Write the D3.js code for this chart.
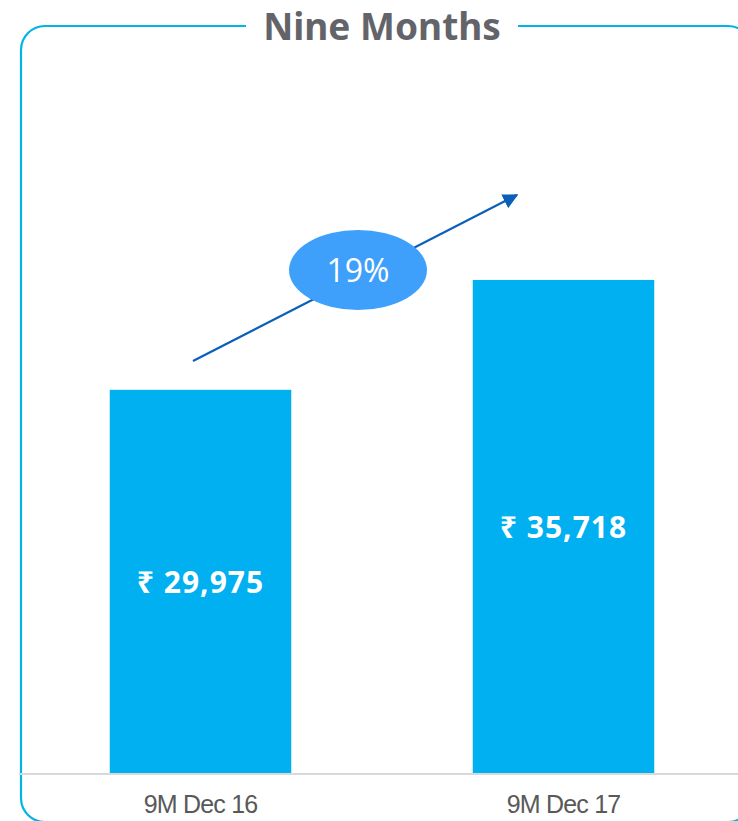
<!DOCTYPE html>
<html>
<head>
<meta charset="utf-8">
<script src="https://cdn.jsdelivr.net/npm/d3@7"></script>
<style>
  body { margin: 0; background: #fff; }
  svg { display: block; }
</style>
</head>
<body>
<div id="chart"></div>
<script>
// data
var periods = ["9M Dec 16", "9M Dec 17"];
var revenue = [29975, 35718];
var chartTitle = "Nine Months";

var width = 738, height = 821;
var baseY = 774;

var svg = d3.select("#chart")
  .append("svg")
    .attr("width", width)
    .attr("height", height);

// rounded frame, partly cut by the page edge
svg.append("rect")
  .attr("x", 21).attr("y", 26)
  .attr("width", 731).attr("height", 796)
  .attr("rx", 24).attr("ry", 24)
  .attr("fill", "none")
  .attr("stroke", "#00b4e6")
  .attr("stroke-width", 2.2);

// white gap behind the title
svg.append("rect")
  .attr("x", 246).attr("y", 10)
  .attr("width", 272).attr("height", 34)
  .attr("fill", "#fff");

svg.append("text")
  .attr("x", 382)
  .attr("y", 40)
  .attr("text-anchor", "middle")
  .attr("font-family", "'Noto Sans', sans-serif")
  .attr("font-weight", "bold")
  .attr("font-size", "37px")
  .attr("fill", "#636469")
  .text(chartTitle);

// scales
var x = d3.scaleBand()
  .domain(periods)
  .range([19, 745])
  .paddingInner(0.5)
  .paddingOuter(0.25);

var y = d3.scaleLinear()
  .domain([9900, 40000])
  .range([baseY, 198]);

// bars
svg.append("g")
  .selectAll("rect")
  .data(periods)
  .enter()
  .append("rect")
    .attr("x", function(d) { return x(d); })
    .attr("y", function(d, i) { return y(revenue[i]); })
    .attr("width", x.bandwidth())
    .attr("height", function(d, i) { return baseY - y(revenue[i]); })
    .attr("fill", "#00b0f0");

// value labels
svg.append("g")
  .selectAll("text")
  .data(periods)
  .enter()
  .append("text")
    .attr("x", function(d) { return x(d) + x.bandwidth() / 2; })
    .attr("y", function(d, i) { return (y(revenue[i]) + baseY) / 2; })
    .attr("dy", "0.36em")
    .attr("text-anchor", "middle")
    .attr("font-family", "'Noto Sans', sans-serif")
    .attr("font-weight", "bold")
    .attr("font-size", "30px")
    .attr("letter-spacing", "1px")
    .attr("fill", "#fff")
    .text(function(d, i) { return "\u20B9 " + d3.format(",")(revenue[i]); });

// x axis
var xAxis = svg.append("g")
  .attr("transform", "translate(0," + baseY + ")")
  .call(d3.axisBottom(x).tickSize(0).tickPadding(0));

xAxis.select(".domain")
  .attr("d", "M19,0H738")
  .attr("stroke", "#d9d9d9")
  .attr("stroke-width", 2);

xAxis.selectAll("text")
  .attr("y", 39)
  .attr("dy", 0)
  .attr("font-family", "'Liberation Sans', sans-serif")
  .attr("font-size", "25px")
  .attr("letter-spacing", "-0.8px")
  .attr("fill", "#595959");

// growth arrow
var growth = revenue[1] / revenue[0] - 1;

svg.append("defs").append("marker")
  .attr("id", "head")
  .attr("viewBox", "0 0 10 10")
  .attr("refX", 9).attr("refY", 5)
  .attr("markerWidth", 7).attr("markerHeight", 7)
  .attr("markerUnits", "strokeWidth")
  .attr("orient", "auto")
  .append("path")
    .attr("d", "M0,0L10,5L0,10z")
    .attr("fill", "#0a5fb9");

svg.append("line")
  .attr("x1", 193).attr("y1", 361)
  .attr("x2", 517).attr("y2", 195)
  .attr("stroke", "#0a5fb9")
  .attr("stroke-width", 2.2)
  .attr("marker-end", "url(#head)");

svg.append("ellipse")
  .attr("cx", 358).attr("cy", 270)
  .attr("rx", 69).attr("ry", 40)
  .attr("fill", "#3fa0fb");

svg.append("text")
  .attr("x", 358)
  .attr("y", 282)
  .attr("text-anchor", "middle")
  .attr("font-family", "'Open Sans', sans-serif")
  .attr("font-size", "32px")
  .attr("fill", "#fff")
  .text(d3.format(".0%")(growth));
</script>
</body>
</html>
